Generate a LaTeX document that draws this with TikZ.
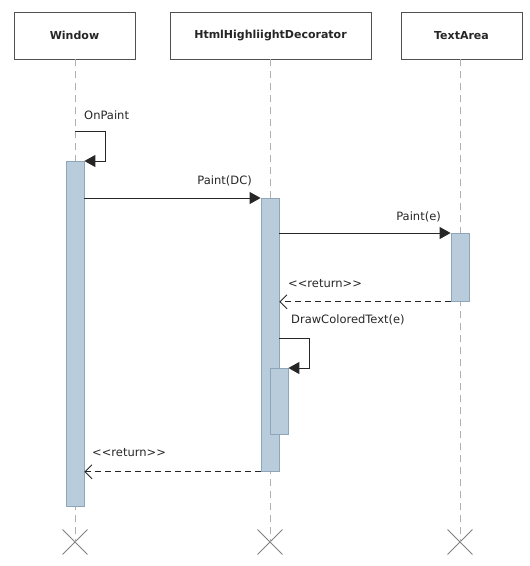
\documentclass[tikz,border=0pt]{standalone}
\usepackage{fontspec}
\setmainfont{DejaVu Sans}
\usetikzlibrary{arrows.meta,shapes.misc}
\definecolor{actfill}{HTML}{B9CCDC}
\definecolor{actdraw}{HTML}{8FA6BA}
\definecolor{lifegray}{HTML}{B0B0B0}
\definecolor{boxdraw}{HTML}{505050}
\tikzset{
  header/.style={draw=boxdraw, line width=0.9pt, fill=white, minimum height=47pt, inner sep=0pt, font=\fontsize{11}{13}\selectfont\bfseries, text=black!85},
  lifeline/.style={draw=lifegray, line width=1pt, dash pattern=on 7pt off 5pt},
  act/.style={draw=actdraw, fill=actfill, line width=0.8pt, minimum width=18pt, inner sep=0pt, anchor=north},
  endx/.style={cross out, draw=gray, line width=0.9pt, minimum size=24pt, inner sep=0pt},
  msg/.style={draw=black!85, line width=0.9pt, -{Triangle[length=11pt,width=12pt]}},
  ret/.style={draw=black!85, line width=0.9pt, dash pattern=on 6pt off 4pt, -{Straight Barb[length=7pt,width=14pt]}},
  lbl/.style={font=\fontsize{11.5}{13}\selectfont, text=black!85, inner sep=0pt}
}
\begin{document}
\begin{tikzpicture}[x=1pt,y=-1pt]
\useasboundingbox (0,0) rectangle (530,566);
% headers
\node[header, minimum width=121pt] (w) at (74.5,35.5) {Window};
\node[header, minimum width=201pt] (h) at (270.5,35.5) {HtmlHighliightDecorator};
\node[header, minimum width=121pt] (t) at (461.5,35.5) {TextArea};
% destruction marks
\node[endx] (xw) at (75,542) {};
\node[endx] (xh) at (270,542) {};
\node[endx] (xt) at (460,542) {};
% lifelines
\draw[lifeline] (w.south -| xw) -- (xw.center);
\draw[lifeline] (h.south -| xh) -- (xh.center);
\draw[lifeline] (t.south -| xt) -- (xt.center);
% activations
\node[act, minimum height=345pt] (aw) at (75,161) {};
\node[act, minimum height=273pt] (ah) at (270,198) {};
\node[act, minimum height=68pt] (at) at (460,233) {};
\node[act, minimum height=66pt] (an) at (279,368) {};
% messages
\coordinate (op) at (75,131);
\draw[msg] (op) -- ++(30,0) |- (aw.north east);
\node[lbl, anchor=west] (lop) at (84,115) {OnPaint};
\draw[msg] (aw.east |- ah.north) -- (ah.north west);
\node[lbl, anchor=east] (ldc) at (252,181) {Paint(DC)};
\draw[msg] (ah.east |- at.north) -- (at.north west);
\node[lbl, anchor=east] (lpe) at (441,217) {Paint(e)};
\draw[ret] (at.south west) -- (ah.east |- at.south);
\node[lbl, anchor=west] (lr1) at (288,284) {<{}<return>{}>};
\coordinate (dc) at (279,338);
\draw[msg] (dc) -- ++(30,0) |- (an.north east);
\node[lbl, anchor=west] (ldt) at (291,320) {DrawColoredText(e)};
\draw[ret] (ah.south west) -- (aw.east |- ah.south);
\node[lbl, anchor=west] (lr2) at (92,453) {<{}<return>{}>};
\end{tikzpicture}
\end{document}
